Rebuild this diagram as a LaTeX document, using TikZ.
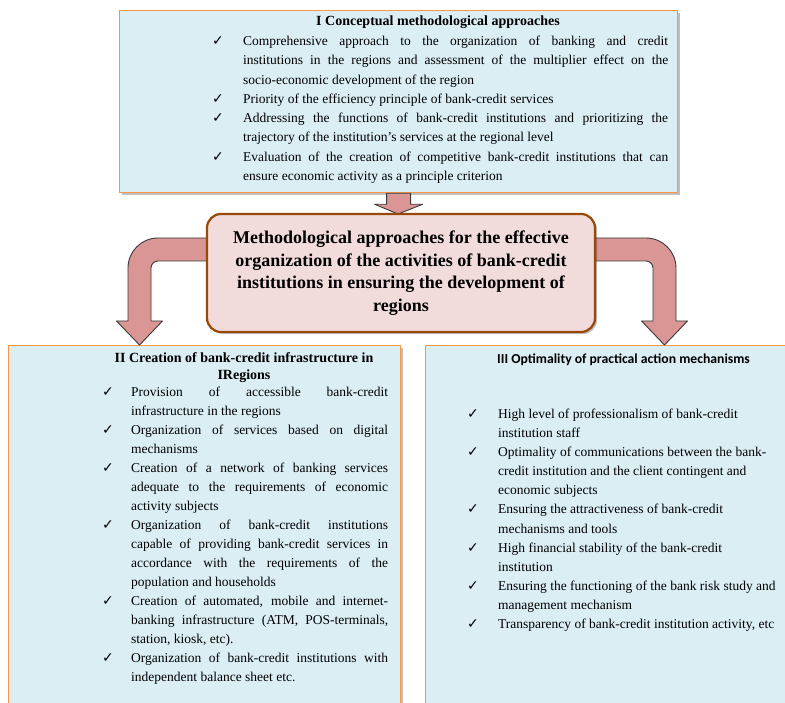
\documentclass[tikz,border=0pt]{standalone}
\usepackage{fontspec}
\setmainfont{Liberation Serif}
\newfontfamily\symfont{DejaVu Sans}
\newfontfamily\calfont{Carlito}
\usetikzlibrary{shadows,calc}

\definecolor{boxblue}{HTML}{DBEEF4}
\definecolor{boxorange}{HTML}{F79646}
\definecolor{centerfill}{HTML}{F2DCDB}
\definecolor{centerdraw}{HTML}{984807}
\definecolor{arrowfill}{HTML}{D99694}
\definecolor{arrowdraw}{HTML}{3A3A3A}

\newlength\ckw
\newlength\txw
\newcommand\myck{{\symfont\fontsize{14}{14}\selectfont ✓}}
\newcommand\itJ[1]{\par\noindent\makebox[\ckw][l]{\myck}\makebox[\txw][s]{#1}}
\newcommand\itL[1]{\par\noindent\makebox[\ckw][l]{\myck}#1}
\newcommand\coJ[1]{\par\noindent\hspace*{\ckw}\makebox[\txw][s]{#1}}
\newcommand\coL[1]{\par\noindent\hspace*{\ckw}#1}

\tikzset{
  bluebox/.style={draw=boxorange, fill=boxblue, line width=1.3pt, inner sep=0pt,
    drop shadow={shadow xshift=2pt, shadow yshift=-2pt, opacity=0.25, fill=black}},
  centerbox/.style={draw=centerdraw, fill=centerfill, line width=2.2pt, rounded corners=14pt,
    align=center, inner sep=0pt, minimum width=388pt, minimum height=118pt,
    font=\bfseries\fontsize{18}{22.5}\selectfont,
    drop shadow={shadow xshift=2pt, shadow yshift=-2pt, opacity=0.25, fill=black}},
  blockarrow/.style={draw=arrowdraw, fill=arrowfill, line width=0.9pt, line join=round},
  itemtext/.style={anchor=base west, inner sep=0pt},
  titletext/.style={inner sep=0pt, font=\bfseries\fontsize{14}{17}\selectfont, align=center}
}

\begin{document}
\begin{tikzpicture}[x=1pt,y=-1pt]
\useasboundingbox (0,0) rectangle (785,703);
\clip (0,0) rectangle (785,703);

% boxes
\node[bluebox, anchor=north west, minimum width=558pt, minimum height=182pt] (top) at (119,10) {};
\node[bluebox, anchor=north west, minimum width=392pt, minimum height=380pt] (left) at (8,345) {};
\node[bluebox, anchor=north west, minimum width=380pt, minimum height=380pt] (right) at (425,345) {};

% down arrow from top box to center box
\coordinate (dtip) at (398,214);
\draw[blockarrow] ($(top.south)+(-12,0)$) -- ($(top.south)+(-12,11)$) -- ($(top.south)+(-24,11)$)
  -- (dtip) -- ($(top.south)+(24,11)$) -- ($(top.south)+(12,11)$) -- ($(top.south)+(12,0)$) -- cycle;

% curved arrows
\draw[blockarrow] (215,238) -- (158,238) .. controls (141.4,238) and (128,251.4) .. (128,268)
  -- (128,321) -- (116.5,321) -- (139.5,345) -- (162.5,321) -- (151,321) -- (151,268)
  .. controls (151,264.1) and (154.1,261) .. (158,261) -- (215,261) -- cycle;
\draw[blockarrow] (587,238) -- (646,238) .. controls (662.6,238) and (676,251.4) .. (676,268)
  -- (676,321) -- (687.5,321) -- (664.5,345) -- (641.5,321) -- (653,321) -- (653,268)
  .. controls (653,264.1) and (649.9,261) .. (646,261) -- (587,261) -- cycle;

% center box
\node[centerbox] (center) at (401,273) {Methodological approaches for the effective\\organization of the activities of bank-credit\\institutions in ensuring the development of\\regions};

% top box text
\node[titletext] (ttitle) at (438,22) {I Conceptual methodological approaches};
\node[itemtext] (titems) at (212,45.5) {\parbox[t]{456pt}{\setlength\parskip{0pt}\setlength\ckw{31pt}\setlength\txw{425pt}%
\fontsize{13.5}{19.3}\selectfont
\itJ{Comprehensive approach to the organization of banking and credit}
\coJ{institutions in the regions and assessment of the multiplier effect on the}
\coL{socio-economic development of the region}
\itL{Priority of the efficiency principle of bank-credit services}
\itJ{Addressing the functions of bank-credit institutions and prioritizing the}
\coL{trajectory of the institution's services at the regional level}
\itJ{Evaluation of the creation of competitive bank-credit institutions that can}
\coL{ensure economic activity as a principle criterion}}};

% left box text
\node[titletext] (ltitle) at (244,367.5) {II Creation of bank-credit infrastructure in\\IRegions};
\node[itemtext] (litems) at (102,396.5) {\parbox[t]{286pt}{\setlength\parskip{0pt}\setlength\ckw{29pt}\setlength\txw{257pt}%
\fontsize{13.5}{19}\selectfont
\itJ{Provision of accessible bank-credit}
\coL{infrastructure in the regions}
\itJ{Organization of services based on digital}
\coL{mechanisms}
\itJ{Creation of a network of banking services}
\coJ{adequate to the requirements of economic}
\coL{activity subjects}
\itJ{Organization of bank-credit institutions}
\coJ{capable of providing bank-credit services in}
\coJ{accordance with the requirements of the}
\coL{population and households}
\itJ{Creation of automated, mobile and internet-}
\coJ{banking infrastructure (ATM, POS-terminals,}
\coL{station, kiosk, etc).}
\itJ{Organization of bank-credit institutions with}
\coL{independent balance sheet etc.}}};

% right box text
\node[anchor=west, inner sep=0pt, font=\calfont\bfseries\fontsize{13.7}{16}\selectfont] (rtitle) at (497,360) {III Optimality of practical action mechanisms};
\node[itemtext] (ritems) at (467,418.5) {\parbox[t]{316pt}{\setlength\parskip{0pt}\setlength\ckw{31pt}\setlength\txw{285pt}%
\fontsize{13.5}{19.1}\selectfont
\itL{High level of professionalism of bank-credit}
\coL{institution staff}
\itL{Optimality of communications between the bank-}
\coL{credit institution and the client contingent and}
\coL{economic subjects}
\itL{Ensuring the attractiveness of bank-credit}
\coL{mechanisms and tools}
\itL{High financial stability of the bank-credit}
\coL{institution}
\itL{Ensuring the functioning of the bank risk study and}
\coL{management mechanism}
\itL{Transparency of bank-credit institution activity, etc}}};
\end{tikzpicture}
\end{document}
